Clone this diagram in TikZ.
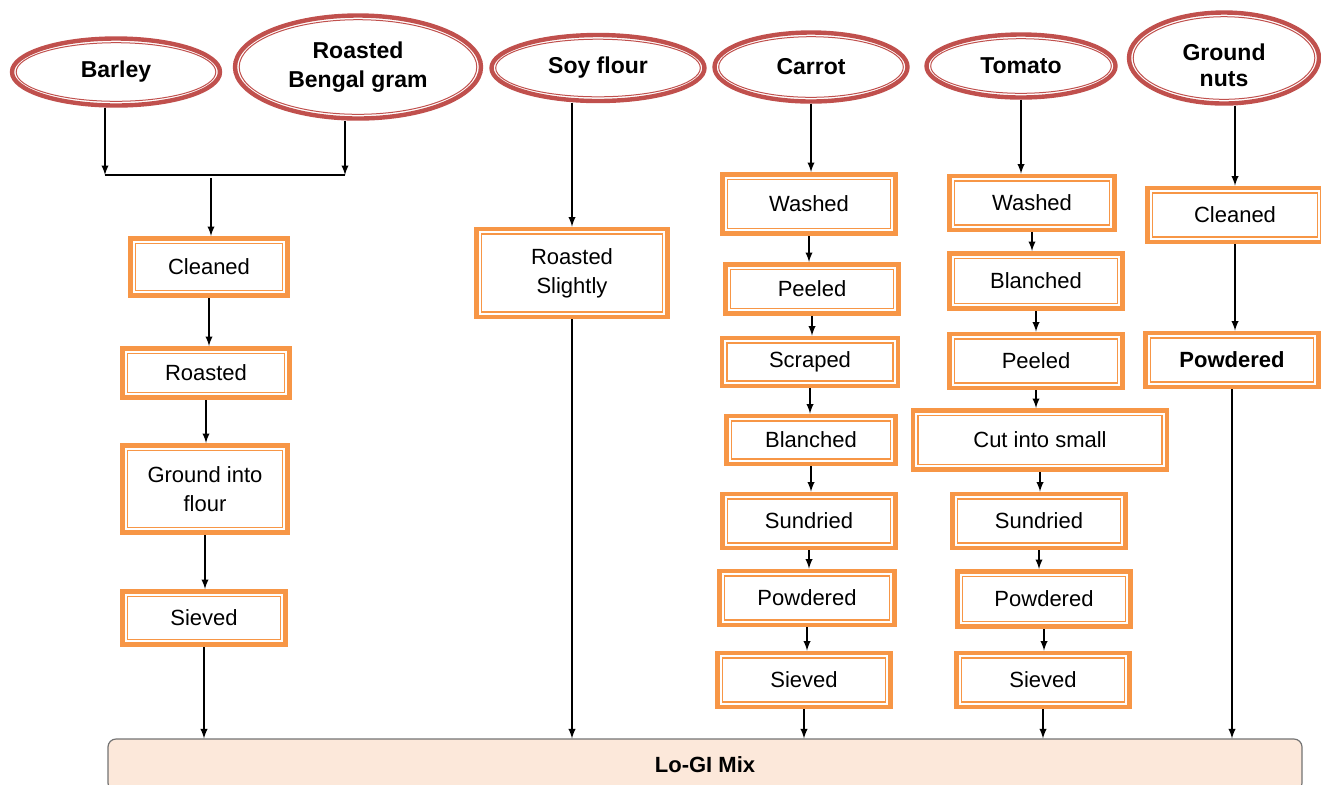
\documentclass[tikz,border=0pt]{standalone}
\usepackage{fontspec}
\setmainfont{Liberation Sans}
\usetikzlibrary{shapes, calc}

\definecolor{srcred}{HTML}{C0504D}
\definecolor{steporange}{HTML}{F79646}
\definecolor{mixfill}{HTML}{FCE8DA}

\tikzset{
	source/.style={ellipse, draw=srcred, line width=2.2pt, inner sep=0pt,
		align=center, font=\fontsize{11.5}{14.5}\selectfont\bfseries,
		path picture={\draw[srcred, line width=0.5pt]
			let \p1=(path picture bounding box.north east),
			\p2=(path picture bounding box.center) in
			(\p2) ellipse ({\x1-\x2-2.1pt} and {\y1-\y2-2.1pt});}},
	stepbox/.style={rectangle, draw=steporange, line width=2.4pt,
		minimum width=86.6pt, minimum height=27pt, inner sep=0pt,
		align=center, font=\fontsize{11}{14.5}\selectfont,
		path picture={\draw[steporange, line width=0.6pt]
			([shift={(2.5pt,2.5pt)}]path picture bounding box.south west)
			rectangle ([shift={(-2.5pt,-2.5pt)}]path picture bounding box.north east);}},
	mixbar/.style={rectangle, rounded corners=4pt, draw=black!55, fill=mixfill,
		line width=0.6pt, minimum width=597pt, minimum height=26pt,
		font=\fontsize{11}{14}\selectfont\bfseries},
	flow/.style={->, >=latex, line width=0.65pt}
}

\begin{document}
\begin{tikzpicture}[x=0.5pt, y=-0.5pt]
	\useasboundingbox (0,0) rectangle (1321,784);

	% raw materials
	\node[source, minimum width=104pt, minimum height=33.5pt] (barley) at (116,72)
		{Barley};
	\node[source, minimum width=123pt, minimum height=51.5pt] (bengal) at (358,67)
		{Roasted\\Bengal gram};
	\node[source, minimum width=106.5pt, minimum height=33pt] (soy) at (598,68)
		{Soy flour};
	\node[source, minimum width=96.5pt, minimum height=34.5pt] (carrot) at (811,67)
		{Carrot};
	\node[source, minimum width=94.5pt, minimum height=31.5pt] (tomato) at (1021,66)
		{Tomato};
	\node[source, minimum width=95pt, minimum height=45.5pt] (nuts) at (1224,58)
		{\rule{0pt}{16pt}Ground\\[-1.5pt]nuts};

	% barley and bengal gram
	\node[stepbox, minimum width=78.6pt, minimum height=28.6pt] (lcleaned) at (209,267)
		{Cleaned};
	\node[stepbox, minimum width=83.6pt, minimum height=24.6pt] (lroasted) at (206,373)
		{Roasted};
	\node[stepbox, minimum width=82.6pt, minimum height=43.6pt] (lground) at (205,489)
		{Ground into\\flour};
	\node[stepbox, minimum width=81.6pt, minimum height=26.6pt] (lsieved) at (204,618)
		{Sieved};

	% soy flour
	\node[stepbox, minimum width=95.6pt, minimum height=44pt] (sroasted) at (572,273)
		{Roasted\\Slightly};

	% carrot
	\node[stepbox, minimum height=29.6pt] (cwashed) at (809,204) {Washed};
	\node[stepbox, minimum height=24.6pt] (cpeeled) at (812,289) {Peeled};
	\node[stepbox, minimum width=88pt, minimum height=24pt] (cscraped) at (810,362)
		{Scraped};
	\node[stepbox, minimum width=84.6pt, minimum height=24pt] (cblanched) at (811,440)
		{Blanched};
	\node[stepbox] (csundried) at (809,521) {Sundried};
	\node[stepbox, minimum width=87.6pt] (cpowdered) at (807,598) {Powdered};
	\node[stepbox] (csieved) at (804,680) {Sieved};

	% tomato
	\node[stepbox, minimum width=82.6pt] (twashed) at (1032,203) {Washed};
	\node[stepbox, minimum height=27.6pt] (tblanched) at (1036,281) {Blanched};
	\node[stepbox] (tpeeled) at (1036,361) {Peeled};
	\node[stepbox, minimum width=127pt, minimum height=29.6pt] (tcut) at (1040,440)
		{Cut into small};
	\node[stepbox] (tsundried) at (1039,521) {Sundried};
	\node[stepbox, minimum height=27.6pt] (tpowdered) at (1044,599) {Powdered};
	\node[stepbox] (tsieved) at (1043,680) {Sieved};

	% ground nuts
	\node[stepbox, minimum width=87.6pt] (ncleaned) at (1235,215) {Cleaned};
	\node[stepbox, font=\fontsize{11}{14.5}\selectfont\bfseries] (npowdered) at (1232,360)
		{Powdered};

	% mix
	\node[mixbar] (mix) at (705,765) {Lo-GI Mix};

	% joining barley and bengal gram
	\coordinate (bleft) at (105,175);
	\coordinate (bright) at (345,175);
	\coordinate (bjoin) at (211,178);
	\draw[flow] (barley.south -| bleft) -- (bleft);
	\draw[flow] (bengal.south -| bright) -- (bright);
	\draw[line width=0.65pt] (bleft) -- (bright);
	\draw[flow] (bjoin) -- (bjoin |- lcleaned.north);
	\draw[flow] (lcleaned) -- (lcleaned |- lroasted.north);
	\draw[flow] (lroasted) -- (lroasted |- lground.north);
	\draw[flow] (lground) -- (lground |- lsieved.north);
	\draw[flow] (lsieved) -- (lsieved |- mix.north);

	\draw[flow] (sroasted |- soy.south) -- (sroasted);
	\draw[flow] (sroasted) -- (sroasted |- mix.north);

	\draw[flow] (carrot) -- (carrot |- cwashed.north);
	\draw[flow] (cwashed) -- (cwashed |- cpeeled.north);
	\draw[flow] (cpeeled) -- (cpeeled |- cscraped.north);
	\draw[flow] (cscraped) -- (cscraped |- cblanched.north);
	\draw[flow] (cblanched) -- (cblanched |- csundried.north);
	\draw[flow] (csundried) -- (csundried |- cpowdered.north);
	\draw[flow] (cpowdered) -- (cpowdered |- csieved.north);
	\draw[flow] (csieved) -- (csieved |- mix.north);

	\draw[flow] (tomato) -- (tomato |- twashed.north);
	\draw[flow] (twashed) -- (twashed |- tblanched.north);
	\draw[flow] (tblanched) -- (tblanched |- tpeeled.north);
	\draw[flow] (tpeeled) -- (tpeeled |- tcut.north);
	\draw[flow] (tcut) -- (tcut |- tsundried.north);
	\draw[flow] (tsundried) -- (tsundried |- tpowdered.north);
	\draw[flow] (tpowdered) -- (tpowdered |- tsieved.north);
	\draw[flow] (tsieved) -- (tsieved |- mix.north);

	\draw[flow] (ncleaned |- nuts.south) -- (ncleaned);
	\draw[flow] (ncleaned) -- (ncleaned |- npowdered.north);
	\draw[flow] (npowdered) -- (npowdered |- mix.north);
\end{tikzpicture}
\end{document}
